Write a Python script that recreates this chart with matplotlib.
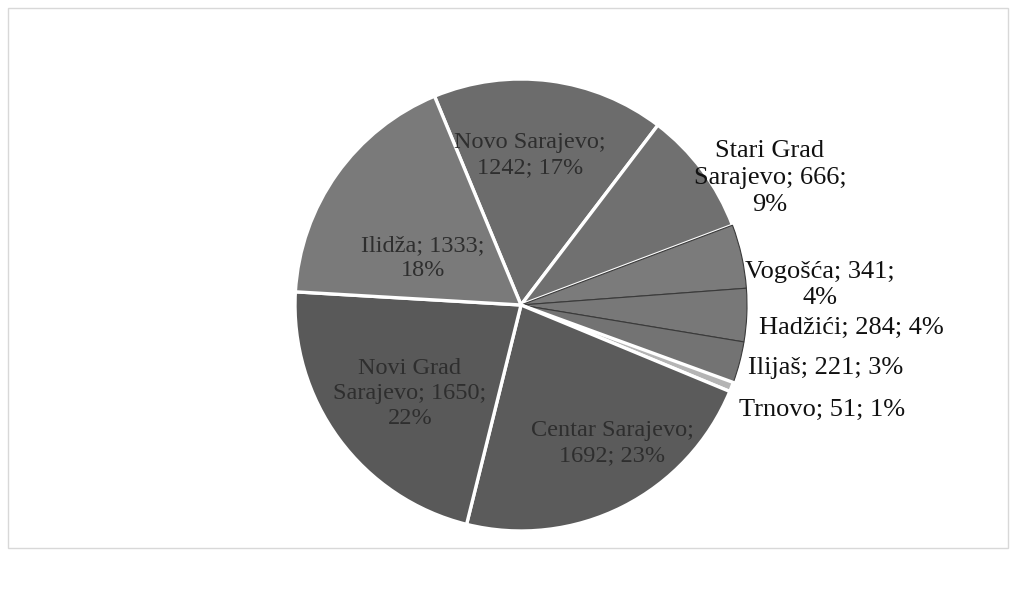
import matplotlib.pyplot as plt
from matplotlib.patches import Rectangle

plt.rcParams['font.family'] = ['Liberation Serif', 'DejaVu Serif']

# data (clockwise from the top)
names = ['Novo Sarajevo', 'Stari Grad Sarajevo', 'Vogošća', 'Hadžići', 'Ilijaš',
         'Trnovo', 'Centar Sarajevo', 'Novi Grad Sarajevo', 'Ilidža']
values = [1242, 666, 341, 284, 221, 51, 1692, 1650, 1333]
pcts = ['17%', '9%', '4%', '4%', '3%', '1%', '23%', '22%', '18%']
label_text = ['Novo Sarajevo;\n1242; 17%', 'Stari Grad\nSarajevo; 666;\n9%',
              'Vogošća; 341;\n4%', 'Hadžići; 284; 4%', 'Ilijaš; 221; 3%',
              'Trnovo; 51; 1%', 'Centar Sarajevo;\n1692; 23%',
              'Novi Grad\nSarajevo; 1650;\n22%', 'Ilidža; 1333;\n18%']
colors = ['#6c6c6c', '#707070', '#7b7b7b', '#787878', '#737373',
          '#b4b4b4', '#5b5b5b', '#595959', '#7a7a7a']

W, H = 1017, 596
fig = plt.figure(figsize=(W / 100, H / 100), dpi=100)

cx, cy, r = 521, 305, 226
ax = fig.add_axes([(cx - r) / W, (H - cy - r) / H, 2 * r / W, 2 * r / H])
wedges, _ = ax.pie(values, colors=colors, startangle=112.5, counterclock=False,
                   wedgeprops=dict(edgecolor='white', linewidth=2.4))
# thin dark borders between the small slices
for w in wedges[2:5]:
    w.set_edgecolor('#3a3a3a')
    w.set_linewidth(0.8)
ax.set_xlim(-1, 1)
ax.set_ylim(-1, 1)
ax.set_aspect('equal')
ax.axis('off')

def px(x, y):
    return x / W, 1 - y / H

# label positions in pixels
pos = [(530, 155), (770, 178), (820, 285), (851, 328), (826, 368),
       (822, 410), (612, 443), (410, 393), (423, 258)]
inside = [0, 6, 7, 8]
for i, t in enumerate(label_text):
    if i in inside:
        fig.text(*px(*pos[i]), t, ha='center', va='center', fontsize=17.5,
                 color='#2e2e2e', linespacing=1.25)
    else:
        fig.text(*px(*pos[i]), t, ha='center', va='center', fontsize=19,
                 color='#111111', linespacing=1.28)

# faint chart-area border
fig.patches.append(Rectangle((8 / W, 1 - 548 / H), (1008 - 8) / W, (548 - 8) / H,
                             transform=fig.transFigure, fill=False,
                             edgecolor='#d8d8d8', linewidth=1))

fig.savefig('out.png', dpi=100)
